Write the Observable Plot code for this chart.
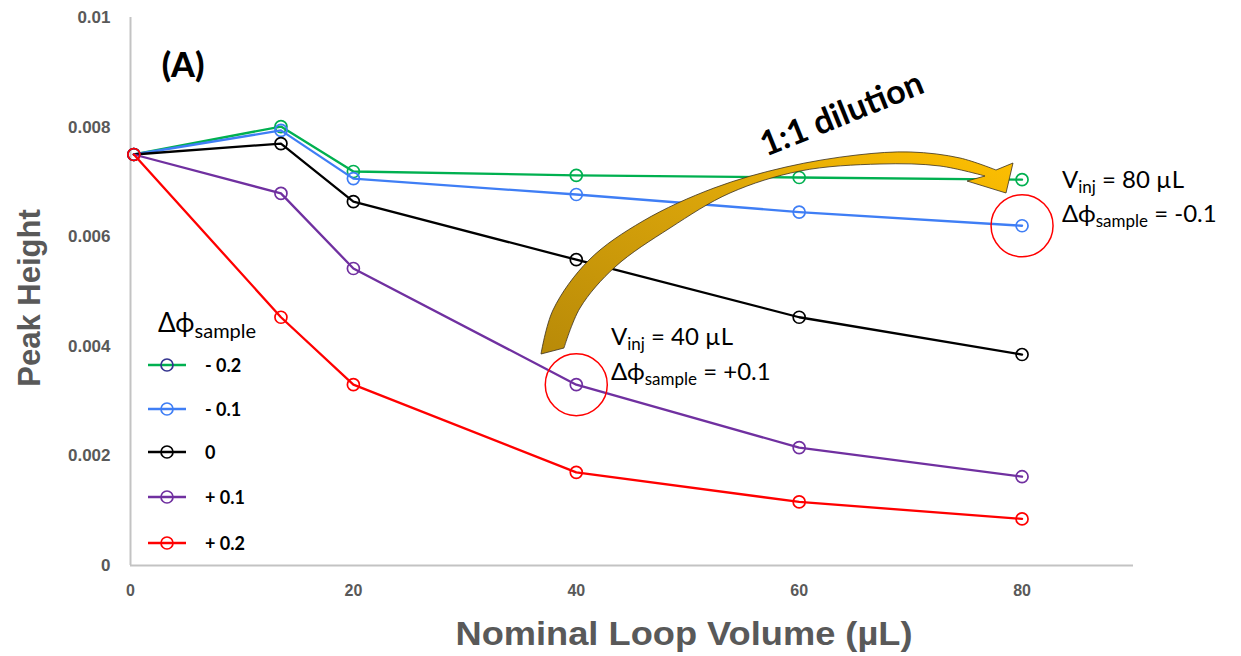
<!DOCTYPE html>
<html>
<head>
<meta charset="utf-8">
<script src="https://cdn.jsdelivr.net/npm/d3@7"></script>
<script src="https://cdn.jsdelivr.net/npm/@observablehq/plot@0.6"></script>
<style>
  html, body { margin: 0; padding: 0; background: #fff; }
  #chart { position: relative; width: 1241px; height: 656px; }
</style>
</head>
<body>
<div id="chart"></div>
<script>
// ---- data ----
const volumes = [0.3, 13.5, 20, 40, 60, 80];          // Nominal Loop Volume (µL)
const seriesNames = ["- 0.2", "- 0.1", "0", "+ 0.1", "+ 0.2"];
const seriesColors = ["#00b050", "#3f7ef5", "#000000", "#7030a0", "#ff0000"];
const legendMarkerColors = ["#34348f", "#3f7ef5", "#000000", "#7030a0", "#ff0000"];
const phiMinus02 = [0.0075, 0.00801, 0.00719, 0.00712, 0.00708, 0.00704];
const phiMinus01 = [0.0075, 0.00794, 0.00706, 0.00677, 0.00645, 0.00620];
const phiZero    = [0.0075, 0.00770, 0.00664, 0.00558, 0.00453, 0.00385];
const phiPlus01  = [0.0075, 0.00679, 0.00542, 0.00330, 0.00215, 0.00162];
const phiPlus02  = [0.0075, 0.00453, 0.00330, 0.00170, 0.00116, 0.00085];
const seriesValues = [phiMinus02, phiMinus01, phiZero, phiPlus01, phiPlus02];
const xTicks = [0, 20, 40, 60, 80];
const yTicks = [0, 0.002, 0.004, 0.006, 0.008, 0.01];
const highlight = [{x: 40, y: phiPlus01[3]}, {x: 80, y: phiMinus01[5]}];

const rows = seriesNames.map((name, i) =>
  volumes.map((v, j) => ({series: name, x: v, y: seriesValues[i][j]})));

const gray = "#595959";
const tickFont = "Liberation Sans, Arial, sans-serif";
const marks = [
  Plot.ruleY([0], {stroke: "#c3c3c3", strokeWidth: 2}),
  Plot.ruleX([0], {stroke: "#c3c3c3", strokeWidth: 2}),
  Plot.text(yTicks, {x: 0, y: d => d, text: d => String(d), textAnchor: "end", dx: -20,
    fontSize: 17, fontWeight: "bold", fill: gray, fontFamily: tickFont}),
  Plot.text(xTicks, {x: d => d, y: 0, text: d => String(d), dy: 25,
    fontSize: 16, fontWeight: "bold", fill: gray, fontFamily: tickFont})
];
rows.forEach((r, i) => {
  marks.push(Plot.line(r, {x: "x", y: "y", stroke: seriesColors[i], strokeWidth: 2.3}));
  marks.push(Plot.dot(r, {x: "x", y: "y", stroke: seriesColors[i], r: 6, strokeWidth: 1.7, fill: "none"}));
});
marks.push(Plot.dot(highlight, {x: "x", y: "y", r: 31, stroke: "#ff0000", strokeWidth: 1.5, fill: "none", ariaLabel: "highlight"}));

const plot = Plot.plot({
  width: 1241, height: 656,
  marginLeft: 130, marginRight: 108, marginTop: 17, marginBottom: 91,
  x: {domain: [0, 90], axis: null},
  y: {domain: [0, 0.01], axis: null},
  style: {background: "#fff", overflow: "visible", fontFamily: tickFont},
  marks
});
document.getElementById("chart").appendChild(plot);

const svg = d3.select(plot);

// ---- annotations ----
const defs = svg.append("defs");
const f = defs.append("filter").attr("id", "shadow").attr("x", "-30%").attr("y", "-30%").attr("width", "160%").attr("height", "160%");
f.append("feDropShadow").attr("dx", 2).attr("dy", 3).attr("stdDeviation", 2).attr("flood-color", "#777").attr("flood-opacity", 0.55);
svg.selectAll("g[aria-label='highlight']").attr("filter", "url(#shadow)");

const grad = defs.append("linearGradient").attr("id", "gold").attr("x1", "0").attr("y1", "1").attr("x2", "1").attr("y2", "0");
grad.append("stop").attr("offset", "0%").attr("stop-color", "#b88a08");
grad.append("stop").attr("offset", "55%").attr("stop-color", "#d9a40a");
grad.append("stop").attr("offset", "100%").attr("stop-color", "#ffc000");

const outer = [[541,354],[553,310],[589,260],[643,221],[714,188],[786,167],[857,155],[911,152],[960,158],[996,170]];
const inner = [[985,176],[940,166],[880,164],[800,171],[730,193],[670,228],[615,267],[580,308],[564,348]];
const ln = d3.line().curve(d3.curveCatmullRom);
const pOuter = ln(outer);
const pInner = ln(inner).replace(/^M/, "L");
const arrowPath = pOuter + " L1013,163 L1006,193 L967,181 " + pInner + " Z";
svg.append("path").attr("d", arrowPath).attr("fill", "url(#gold)").attr("stroke", "#3a3020").attr("stroke-width", 0.8);

const annFont = "Lato, Calibri, Carlito, sans-serif";
svg.append("text").attr("x", 183).attr("y", 63).attr("text-anchor", "middle").attr("dominant-baseline", "central")
  .attr("font-size", 34).attr("font-weight", 900).attr("font-family", annFont).attr("fill", "#000").text("(A)");

svg.append("text").attr("transform", "translate(841,112) rotate(-22)").attr("text-anchor", "middle")
  .attr("dominant-baseline", "central").attr("font-size", 34).attr("font-weight", "bold")
  .attr("font-family", annFont).attr("fill", "#000").text("1:1 dilution");

function subText(x, y, main, sub, rest, size, subSize) {
  const t = svg.append("text").attr("x", x).attr("y", y).attr("font-family", annFont)
    .attr("text-anchor", "start").attr("font-size", size).attr("fill", "#000");
  t.append("tspan").text(main);
  t.append("tspan").attr("font-size", subSize).attr("dy", size * 0.22).text(sub);
  if (rest) t.append("tspan").attr("dy", -size * 0.22).text(rest);
  return t;
}
subText(611, 345, "V", "inj", " = 40 µL", 24, 17);
subText(611, 380, "Δϕ", "sample", " = +0.1", 24, 17);
subText(1062, 188, "V", "inj", " = 80 µL", 24, 17);
subText(1062, 222, "Δϕ", "sample", " = -0.1", 24, 17);

// legend
subText(158, 332, "Δϕ", "sample", null, 26, 20);
const legY = [365, 409, 452, 497, 543];
seriesNames.forEach((name, i) => {
  const g = svg.append("g");
  g.append("line").attr("x1", 148).attr("x2", 186).attr("y1", legY[i]).attr("y2", legY[i])
    .attr("stroke", seriesColors[i]).attr("stroke-width", 2.3);
  g.append("circle").attr("cx", 167).attr("cy", legY[i]).attr("r", 6).attr("fill", "none")
    .attr("stroke", legendMarkerColors[i]).attr("stroke-width", 1.7);
  g.append("text").attr("x", 205).attr("y", legY[i]).attr("dominant-baseline", "central").attr("text-anchor", "start")
    .attr("font-family", annFont).attr("font-weight", "bold").attr("font-size", 18).attr("fill", "#000").text(name);
});

// axis titles
svg.append("text").attr("x", 684).attr("y", 633).attr("text-anchor", "middle").attr("dominant-baseline", "central")
  .attr("font-family", "Liberation Sans, Arial, sans-serif")
  .attr("font-weight", "bold").attr("font-size", 34).attr("fill", gray)
  .attr("textLength", 457).attr("lengthAdjust", "spacingAndGlyphs").text("Nominal Loop Volume (µL)");
svg.append("text").attr("transform", "translate(29,298) rotate(-90)").attr("text-anchor", "middle")
  .attr("dominant-baseline", "central").attr("font-family", "Liberation Sans, Arial, sans-serif")
  .attr("font-weight", "bold").attr("font-size", 31).attr("fill", gray).text("Peak Height");
</script>
</body>
</html>
